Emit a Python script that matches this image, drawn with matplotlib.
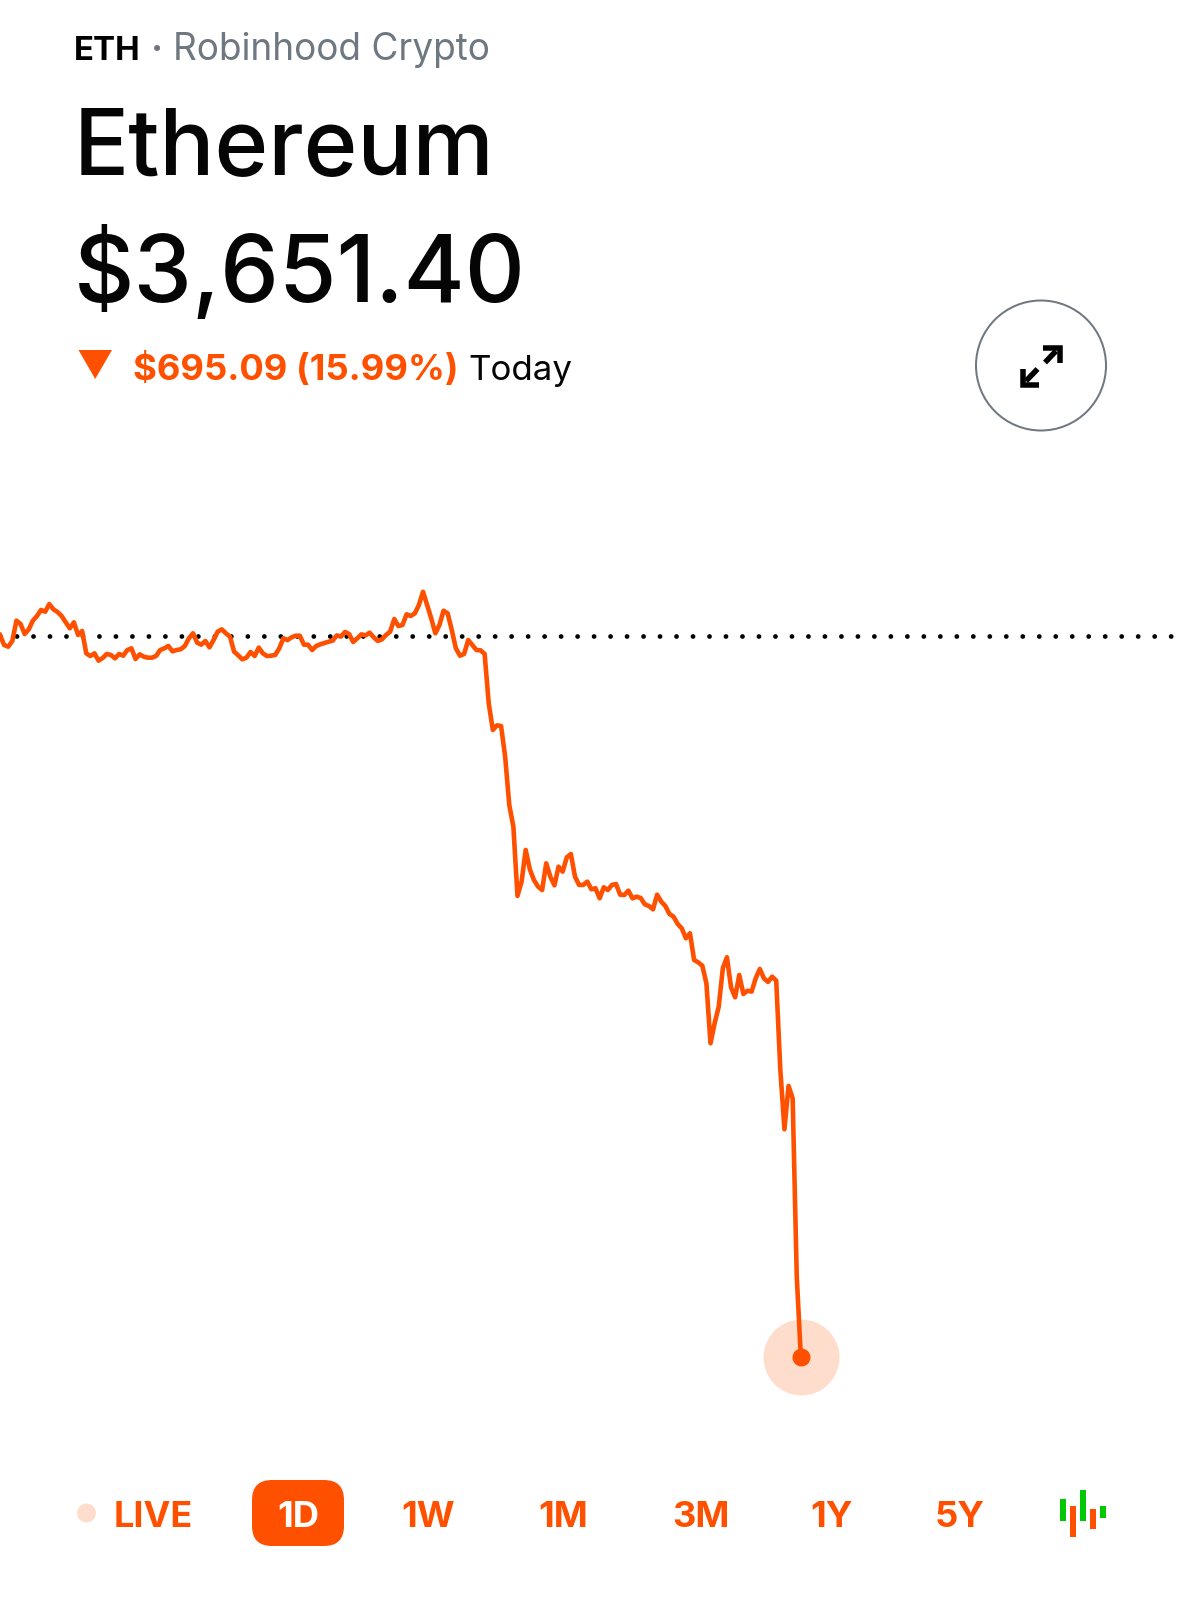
import numpy as np
import matplotlib.pyplot as plt
from matplotlib.patches import Circle, FancyBboxPatch, Polygon, Rectangle

plt.rcParams['font.family'] = ['Inter', 'DejaVu Sans']

ORANGE = '#FF5000'
HALO = '#FFDDCC'
GREEN = '#00C805'
GREY = '#6F7780'
INK = '#050505'

ticker = 'ETH'
source = 'Robinhood Crypto'
name = 'Ethereum'
price_text = '$3,651.40'
change_text = '$695.09 (15.99%)'
period_text = 'Today'
live_label = 'LIVE'
range_labels = ['1D', '1W', '1M', '3M', '1Y', '5Y']
range_x = [298, 428, 563, 700.5, 832, 959.5]

prev_close = 4346.49
# change from previous close in dollars, one value every 5 minutes
change_from_close = [
    1.0, -8.7, -10.3, -4.8, 14.8, 11.6, 1.9, 6.4, 14.8, 19.3, 25.1, 23.4, 30.8, 25.7, 23.1, 19.3,
    13.2, 7.4, 13.2, 1.0, 4.8, -16.7, -19.3, -16.7, -23.8, -21.2, -17.3, -18.3, -21.5, -17.3, -19.0,
    -13.5, -11.9, -22.2, -17.7, -19.9, -20.9, -20.9, -19.3, -13.5, -11.9, -9.6, -14.8, -13.5, -12.8,
    -9.6, -2.2, 2.6, -6.4, -8.4, -4.8, -10.9, -3.9, 4.2, 6.4, 2.6, -0.6, -15.1, -18.6, -22.5, -20.9,
    -15.4, -19.3, -11.2, -16.7, -19.3, -19.0, -18.3, -11.9, -2.2, -3.9, -1.3, 0.3, 0.3, -8.4, -8.4,
    -13.5, -9.6, -8.0, -6.7, -5.5, -4.5, 0.6, -0.6, 3.9, 1.9, -5.8, -2.2, 1.6, 0.6, 3.2, -1.3, -4.8,
    -3.2, 1.0, 4.2, 16.4, 9.6, 10.6, 20.9, 19.3, 21.8, 29.9, 42.7, 29.9, 17.0, 2.6, 10.6, 24.4, 21.8,
    5.8, -11.9, -19.0, -17.3, -3.9, -8.7, -13.5, -13.8, -17.3,
    -64.9, -90.6, -86.1, -86.7, -116.3, -162.8, -183.7, -250.5, -236.7, -206.2, -224.8, -235.1,
    -241.5, -244.8, -219.1, -231.9, -240.3, -222.3, -227.1, -213.3, -210.1, -231.9, -239.9, -239.9,
    -236.7, -244.1, -243.1, -252.8, -242.2, -244.8, -239.9, -239.0, -249.3, -249.6, -245.4, -252.8,
    -251.2, -252.5, -258.6, -260.2, -263.4, -249.3, -256.0, -260.2, -267.9, -270.5, -277.5, -281.7,
    -291.3, -286.5,
    -312.2, -314.5, -317.7, -334.7, -392.5, -373.2, -357.2, -320.2, -309.6, -338.6, -348.2, -326.7,
    -345.0, -341.8, -342.7, -329.9, -320.9, -329.9, -333.4, -328.3, -332.1, -418.2, -475.4, -433.6,
    -445.5, -617.4, -695.09,
]

# candle icon bottom right: (x centre, top, bottom, colour)
candle_x = [1063, 1073, 1083, 1093, 1103]
candle_top = [1499, 1506, 1490, 1509, 1506]
candle_bottom = [1521, 1537, 1521, 1529, 1518]
candle_colors = [GREEN, ORANGE, GREEN, ORANGE, GREEN]

W, H = 1179, 1599
PX = 0.72  # points per pixel at dpi 100

fig = plt.figure(figsize=(W / 100, H / 100), dpi=100, facecolor='white')

# price chart, full width
chart_top, chart_bottom = 560, 1400
ax = fig.add_axes([0, 1 - chart_bottom / H, 1, (chart_bottom - chart_top) / H])
ax.axis('off')
dollars_per_px = 0.9637
step_px = 4.107
ax.set_xlim(0, W / step_px)
ax.set_ylim(prev_close - (chart_bottom - 636) * dollars_per_px,
            prev_close + (636 - chart_top) * dollars_per_px)

prices = prev_close + np.array(change_from_close)
steps = np.arange(len(prices))

# dotted previous close, spacing 16.45 px
dot_lw = 4.8 * PX
ax.plot([0, 1172 / step_px], [prev_close, prev_close], color='black', lw=dot_lw,
        linestyle=(0, (0.01, 16.44 * PX / dot_lw)), dash_capstyle='round', zorder=1)
ax.plot(steps, prices, color=ORANGE, lw=4.6 * PX, solid_joinstyle='round', zorder=2)
ax.plot(steps[-1], prices[-1], 'o', color=HALO, ms=76 * PX, mew=0, zorder=1.5)
ax.plot(steps[-1], prices[-1], 'o', color=ORANGE, ms=18 * PX, mew=0, zorder=3)

# everything else is laid out in pixels
ui = fig.add_axes([0, 0, 1, 1], zorder=5)
ui.set_xlim(0, W)
ui.set_ylim(H, 0)
ui.axis('off')
ui.patch.set_alpha(0)


def label(x, y, s, size_px, color=INK, weight='normal', ha='left'):
    return ui.text(x, y, s, fontsize=size_px * PX, color=color, fontweight=weight,
                   ha=ha, va='baseline')


label(74, 60, ticker, 33, color='black', weight='bold')
label(151, 60, '·', 36, color=GREY, weight='bold')
label(173, 60, source, 37, color=GREY)
label(74, 175, name, 91.5, weight=500)
label(74, 302, price_text, 93.3, weight=500)
ui.add_patch(Polygon([(78.5, 350), (112, 350), (95.2, 379)], closed=True, fc=ORANGE, ec='none'))
label(133, 380, change_text, 36.4, color=ORANGE, weight='bold')
label(468, 380, period_text, 35)

# expand button
ui.add_patch(Circle((1041, 365.5), 65, fc='white', ec=GREY, lw=2 * PX))
arrow_lw = 5.5 * PX
ui.plot([1043, 1059.5, 1059.5], [347.5, 347.5, 363], color='black', lw=arrow_lw,
        solid_joinstyle='miter', solid_capstyle='butt')
ui.plot([1056, 1045], [351, 362.5], color='black', lw=arrow_lw, solid_capstyle='butt')
ui.plot([1022.5, 1022.5, 1039], [369, 384.5, 384.5], color='black', lw=arrow_lw,
        solid_joinstyle='miter', solid_capstyle='butt')
ui.plot([1026, 1037.5], [381, 369], color='black', lw=arrow_lw, solid_capstyle='butt')

# range selector
ui.add_patch(Circle((86.5, 1513), 9.5, fc=HALO, ec='none'))
label(114, 1527, live_label, 36, color=ORANGE, weight='bold')
ui.add_patch(FancyBboxPatch((272, 1500), 52, 26, boxstyle='round,pad=20,rounding_size=20',
                            fc=ORANGE, ec='none'))
for i, (x, s) in enumerate(zip(range_x, range_labels)):
    label(x, 1527, s, 36.5, color='white' if i == 0 else ORANGE, weight='bold', ha='center')

for x, top, bottom, c in zip(candle_x, candle_top, candle_bottom, candle_colors):
    ui.add_patch(Rectangle((x - 3, top), 6, bottom - top, fc=c, ec='none'))

fig.savefig('out.png', dpi=100)
